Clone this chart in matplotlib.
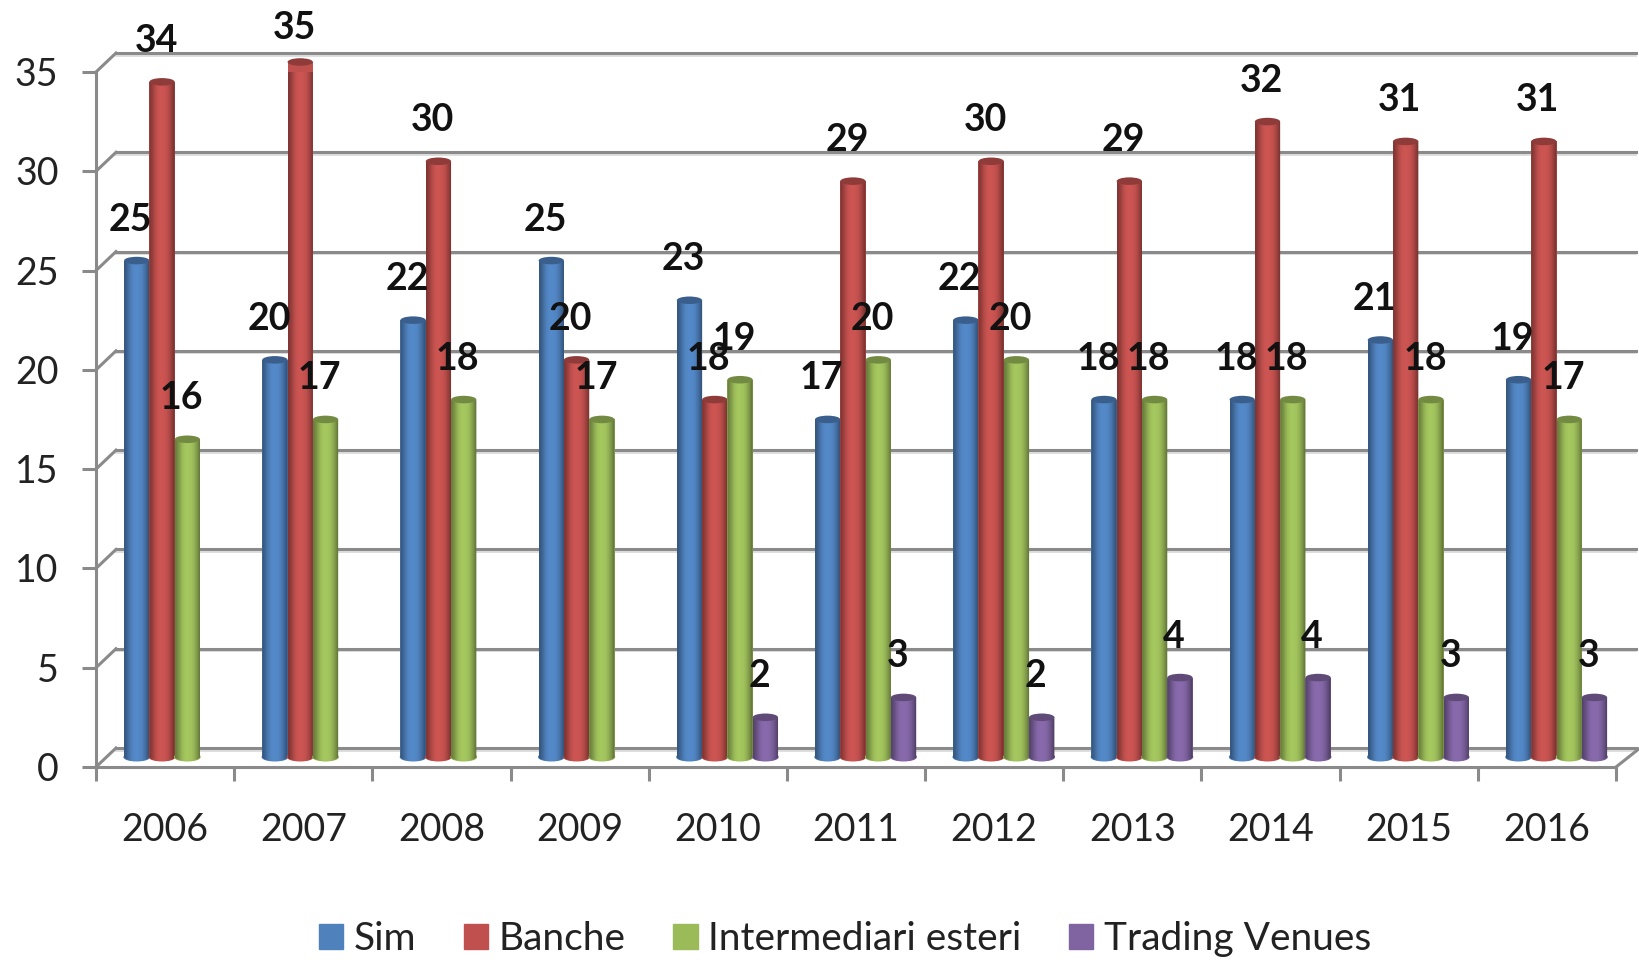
import numpy as np
import matplotlib
matplotlib.use('Agg')
import matplotlib.pyplot as plt
from matplotlib.patches import Ellipse, Rectangle
from matplotlib.path import Path
from matplotlib.transforms import ScaledTranslation, Affine2D

plt.rcParams['font.family'] = ['Lato', 'DejaVu Sans']

years = ['2006', '2007', '2008', '2009', '2010', '2011', '2012', '2013', '2014', '2015', '2016']
sim = [25, 20, 22, 25, 23, 17, 22, 18, 18, 21, 19]
banche = [34, 35, 30, 20, 18, 29, 30, 29, 32, 31, 31]
esteri = [16, 17, 18, 17, 19, 20, 20, 18, 18, 18, 17]
venues = [None, None, None, None, 2, 3, 2, 4, 4, 3, 3]
series_names = ['Sim', 'Banche', 'Intermediari esteri', 'Trading Venues']
colors = ['#4F81BD', '#C0504D', '#9BBB59', '#8064A2']
y_ticks = [0, 5, 10, 15, 20, 25, 30, 35]

GREY = '#8A8A8A'
W, H = 1640, 960
DPI = 100

fig = plt.figure(figsize=(W / DPI, H / DPI), dpi=DPI, facecolor='white')
ax = fig.add_axes([96 / W, (H - 767) / H, (1616 - 96) / W, (767 - 72) / H])
ax.set_xlim(0, len(years))
ax.set_ylim(0, 35)


# shift in pixels on top of data coords, this fakes the 3d depth
def shifted(dx, dy):
    return ax.transData + ScaledTranslation(dx / DPI, dy / DPI, fig.dpi_scale_trans)


back = shifted(20, 19)
bars = shifted(9.6, 10)

# back wall, side wall and floor
for v in y_ticks:
    ax.plot([0, len(years)], [v, v], color=GREY, lw=2.2, transform=back, clip_on=False, zorder=1)
    ax.plot([0, len(years)], [v, v], color='#D8D8D8', lw=1.2, transform=shifted(20, 16.5), clip_on=False, zorder=0.9)
    x0, y0 = ax.transData.transform((0, v))
    ax.plot([x0, x0 + 20], [y0, y0 + 19], color=GREY, lw=2.2, transform=None, clip_on=False, zorder=1)
x1, y1 = ax.transData.transform((len(years), 0))
ax.plot([x1, x1 + 24], [y1, y1 + 19], color=GREY, lw=2.2, transform=None, clip_on=False, zorder=1)

for name, s in ax.spines.items():
    s.set_visible(name in ('left', 'bottom'))
    s.set_color(GREY)
    s.set_linewidth(2.2)
    s.set_zorder(1.5)

ax.set_yticks(y_ticks)
ax.set_xticks(range(len(years) + 1))
ax.set_xticklabels([])
ax.set_xticks(np.arange(len(years)) + 0.5, minor=True)
ax.set_xticklabels(years, minor=True)
ax.tick_params(axis='y', length=10, width=2.2, color=GREY, pad=17, labelsize=27, labelcolor='#222222')
ax.tick_params(axis='x', which='major', length=10, width=2.2, color=GREY)
ax.tick_params(axis='x', which='minor', length=0, pad=32.5, labelsize=27, labelcolor='#222222')
# tick numbers sit a bit under their tick in the original
for t in ax.yaxis.get_major_ticks():
    t.label1.set_verticalalignment('center')
    t.label1.set_transform(t.label1.get_transform() + ScaledTranslation(0, -3 / DPI, fig.dpi_scale_trans))

# horizontal shading of a cylinder
shade = np.array([0.68, 0.78, 0.9, 1.0, 1.05, 1.07, 1.06, 1.04, 0.99, 0.9, 0.78, 0.64])
bar_w = 25.3 / 138.18
cap_h = 0.38


def cylinder(xc, val, color, z):
    rgb = np.array(matplotlib.colors.to_rgb(color))
    grad = np.clip(shade[:, None] * rgb, 0, 1)[None, :, :]
    left = xc - bar_w / 2
    ax.bar(xc, val, bar_w, color=color, transform=bars, zorder=z, clip_on=False)
    # round bottom edge + body as one clip shape
    body = Affine2D().scale(bar_w, val).translate(left, 0).transform_path(Path.unit_rectangle())
    foot = Affine2D().scale(bar_w / 2, cap_h / 2).translate(xc, 0).transform_path(Path.unit_circle())
    clip = Path.make_compound_path(body, foot)
    foot_patch = Ellipse((xc, 0), bar_w, cap_h, color=color, transform=bars, zorder=z, clip_on=False)
    ax.add_patch(foot_patch)
    im = ax.imshow(grad, extent=(left, left + bar_w, -cap_h, val), aspect='auto',
                   transform=bars, zorder=z + 0.01, interpolation='bilinear')
    im.set_clip_path(clip, bars)
    cap = Ellipse((xc, val), bar_w, cap_h, facecolor=rgb * 0.74, edgecolor='none',
                  transform=bars, zorder=z + 0.02, clip_on=False)
    ax.add_patch(cap)


all_series = [sim, banche, esteri, venues]
for j, vals in enumerate(all_series):
    for i, v in enumerate(vals):
        if v is None:
            continue
        xc = i + 0.5 + (j - 1.5) * bar_w
        cylinder(xc, v, colors[j], 2 + j)

# data labels sit above the bars, the top one is pushed down by the image edge
for j, vals in enumerate(all_series):
    for i, v in enumerate(vals):
        if v is None:
            continue
        xc = i + 0.5 + (j - 1.5) * bar_w
        px, py = bars.transform((xc, v))
        py = min(py + 41, H - 28)
        ax.text(px - 6, py, str(v), transform=None, ha='center', va='center', fontsize=27,
                fontweight='bold', color='#111111', zorder=10, clip_on=False)

ax.set_xlim(0, len(years))
ax.set_ylim(0, 35)

handles = [Rectangle((0, 0), 1, 1, color=c) for c in colors]
fig.legend(handles, series_names, loc='center', bbox_to_anchor=(845 / W, (H - 939) / H), ncol=4,
           frameon=False, fontsize=28, handlelength=0.63, handleheight=0.63, handletextpad=0.28,
           columnspacing=1.21, labelcolor='#222222', borderpad=0)

fig.savefig('out.png', dpi=DPI, facecolor='white')
